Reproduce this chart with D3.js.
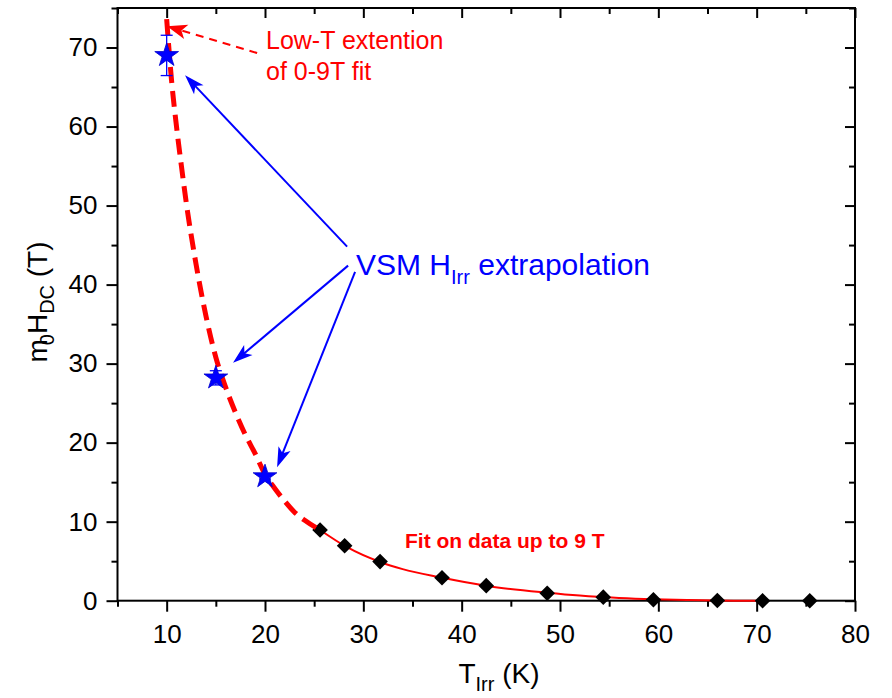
<!DOCTYPE html>
<html>
<head>
<meta charset="utf-8">
<script src="https://cdn.jsdelivr.net/npm/d3@7/dist/d3.min.js"></script>
<style>
    body { margin: 0; background: #fff; }
    svg { display: block; font-family: Arial, "Liberation Sans", sans-serif; }
</style>
</head>
<body>
<svg id="chart" width="892" height="698"></svg>
<script>
// measured points (black diamonds)
var dataT = [25.6, 28.1, 31.7, 38.0, 42.5, 48.7, 54.4, 59.5, 66.0, 70.6, 75.4];
var dataH = [8.95, 6.95, 4.95, 2.9, 1.9, 0.95, 0.45, 0.12, 0.02, 0, 0];

// VSM extrapolation (blue stars)
var vsmT = [10, 15, 20];
var vsmH = [69.0, 28.2, 15.7];
var vsmErr = [2.55, 0.9, 0.3];

// fit, low-T extension (dashed)
var extT = [10, 10.5, 11, 11.5, 12, 13, 14, 15, 16, 17, 18, 19, 20, 21, 22, 23, 24, 25.6];
var extH = [73.6, 65.8, 60.0, 55.0, 50.3, 42.5, 36.0, 30.8, 27.0, 23.8, 21.0, 18.6, 16.0, 14.2, 12.6, 11.2, 10.2, 8.95];

// fit on data up to 9 T (solid)
var fitT = [25.6, 28.3, 31.7, 34, 37.8, 42.6, 48.7, 52, 56, 59.5, 63, 66, 70];
var fitH = [8.95, 6.8, 4.9, 4.0, 2.96, 1.86, 1.01, 0.65, 0.35, 0.18, 0.08, 0.02, 0];

var xTicks = [10, 20, 30, 40, 50, 60, 70, 80];
var xMinor = [5, 15, 25, 35, 45, 55, 65, 75];
var yTicks = [0, 10, 20, 30, 40, 50, 60, 70];
var yMinor = [5, 15, 25, 35, 45, 55, 65, 75];

var svg = d3.select('#chart');

var pLeft = 117.5, pRight = 855, pTop = 8, pBottom = 600.7;

var x = d3.scaleLinear().domain([5, 80]).range([pLeft, pRight]);
var y = d3.scaleLinear().domain([0, 75]).range([pBottom, pTop]);

// axes
function styleAxis(g) {
    g.select('.domain').remove();
    g.selectAll('line').attr('stroke', '#000').attr('stroke-width', 2);
    g.selectAll('text').attr('fill', '#000').style('font-size', '26px');
}

svg.append('g')
    .attr('transform', `translate(0,${pBottom})`)
    .call(d3.axisBottom(x).tickValues(xTicks).tickSize(11).tickPadding(13).tickFormat(d3.format('d')))
    .call(styleAxis);

svg.append('g')
    .attr('transform', `translate(0,${pBottom})`)
    .call(d3.axisBottom(x).tickValues(xMinor).tickSize(6).tickFormat(''))
    .call(styleAxis);

svg.append('g')
    .attr('transform', `translate(0,${pTop})`)
    .call(d3.axisTop(x).tickValues(xTicks).tickSize(-10).tickFormat(''))
    .call(styleAxis);

svg.append('g')
    .attr('transform', `translate(0,${pTop})`)
    .call(d3.axisTop(x).tickValues(xMinor).tickSize(-6).tickFormat(''))
    .call(styleAxis);

svg.append('g')
    .attr('transform', `translate(${pLeft},0)`)
    .call(d3.axisLeft(y).tickValues(yTicks).tickSize(11).tickPadding(9).tickFormat(d3.format('d')))
    .call(styleAxis);

svg.append('g')
    .attr('transform', `translate(${pLeft},0)`)
    .call(d3.axisLeft(y).tickValues(yMinor).tickSize(6).tickFormat(''))
    .call(styleAxis);

svg.append('g')
    .attr('transform', `translate(${pRight},0)`)
    .call(d3.axisRight(y).tickValues(yTicks).tickSize(-10).tickFormat(''))
    .call(styleAxis);

svg.append('g')
    .attr('transform', `translate(${pRight},0)`)
    .call(d3.axisRight(y).tickValues(yMinor).tickSize(-6).tickFormat(''))
    .call(styleAxis);

// frame
svg.append('rect')
    .attr('x', pLeft)
    .attr('y', pTop)
    .attr('width', pRight - pLeft)
    .attr('height', pBottom - pTop)
    .attr('fill', 'none')
    .attr('stroke', '#000')
    .attr('stroke-width', 2);

// axis titles
var xt = svg.append('text')
    .attr('x', 499)
    .attr('y', 683)
    .attr('text-anchor', 'middle')
    .style('font-size', '28px')
    .attr('fill', '#000');
xt.append('tspan').text('T');
xt.append('tspan').text('Irr').style('font-size', '20px').attr('dy', 8);
xt.append('tspan').text(' (K)').attr('dy', -8);

var yt = svg.append('text')
    .attr('transform', 'translate(47,302) rotate(-90)')
    .attr('text-anchor', 'middle')
    .style('font-size', '28px')
    .attr('fill', '#000');
yt.append('tspan').text('m');
yt.append('tspan').text('0').style('font-size', '20px').attr('dy', 7).attr('dx', -6);
yt.append('tspan').text('H').attr('dy', -7);
yt.append('tspan').text('DC').style('font-size', '20px').attr('dy', 7);
yt.append('tspan').text(' (T)').attr('dy', -7);

// fit curves
var line = d3.line()
    .x(function (d) { return x(d[0]); })
    .y(function (d) { return y(d[1]); })
    .curve(d3.curveMonotoneX);

svg.append('path')
    .datum(d3.zip(fitT, fitH))
    .attr('d', line)
    .attr('fill', 'none')
    .attr('stroke', '#ff0000')
    .attr('stroke-width', 2);

// data points
svg.append('g')
    .selectAll('path')
    .data(d3.zip(dataT, dataH))
    .join('path')
    .attr('d', d3.symbol(d3.symbolSquare, 122))
    .attr('transform', function (d) { return `translate(${x(d[0])},${y(d[1])}) rotate(45)`; })
    .attr('fill', '#000');

svg.append('path')
    .datum(d3.zip(extT, extH))
    .attr('d', line)
    .attr('fill', 'none')
    .attr('stroke', '#ff0000')
    .attr('stroke-width', 5)
    .attr('stroke-dasharray', '16,8');

// VSM error bars
var vsm = d3.zip(vsmT, vsmH, vsmErr);
var eb = svg.append('g')
    .attr('stroke', '#0000ff')
    .attr('stroke-width', 1.3);

eb.selectAll('.v')
    .data(vsm)
    .join('line')
    .attr('x1', function (d) { return x(d[0]); })
    .attr('x2', function (d) { return x(d[0]); })
    .attr('y1', function (d) { return y(d[1] + d[2]); })
    .attr('y2', function (d) { return y(d[1] - d[2]); });

[1, -1].forEach(function (s) {
    eb.append('g')
        .selectAll('line')
        .data(vsm)
        .join('line')
        .attr('x1', function (d) { return x(d[0]) - 6; })
        .attr('x2', function (d) { return x(d[0]) + 6; })
        .attr('y1', function (d) { return y(d[1] + s * d[2]); })
        .attr('y2', function (d) { return y(d[1] + s * d[2]); });
});

svg.append('g')
    .selectAll('path')
    .data(vsm)
    .join('path')
    .attr('d', d3.symbol(d3.symbolStar, 175))
    .attr('transform', function (d) { return `translate(${x(d[0])},${y(d[1])})`; })
    .attr('fill', '#0000ff')
    .attr('stroke', '#0000cc')
    .attr('stroke-width', 0.8);

// annotation arrows [fromT, fromH, toT, toH]
var blueArrows = [
    [28.35, 44.8, 11.87, 66.5],
    [28.45, 42.4, 16.75, 30.1],
    [29.16, 41.6, 21.23, 16.9]
];
var redArrow = [19.2, 69.3, 10.04, 72.7];

function arrow(a, color, width, dash, headLen, headW) {
    var x1 = x(a[0]), y1 = y(a[1]), x2 = x(a[2]), y2 = y(a[3]);
    var ang = Math.atan2(y2 - y1, x2 - x1);
    var cos = Math.cos(ang), sin = Math.sin(ang);
    var bx = x2 - headLen * cos, by = y2 - headLen * sin;
    var nx = -sin * headW / 2, ny = cos * headW / 2;

    svg.append('line')
        .attr('x1', x1)
        .attr('y1', y1)
        .attr('x2', bx + headLen * 0.3 * cos)
        .attr('y2', by + headLen * 0.3 * sin)
        .attr('stroke', color)
        .attr('stroke-width', width)
        .attr('stroke-dasharray', dash);

    svg.append('path')
        .attr('d', `M${x2},${y2} L${bx + nx},${by + ny} L${bx + headLen * 0.25 * cos},${by + headLen * 0.25 * sin} L${bx - nx},${by - ny} Z`)
        .attr('fill', color);
}

blueArrows.forEach(function (a) { arrow(a, '#0000ff', 2, null, 20, 13); });
arrow(redArrow, '#ff0000', 2, '8,6', 20, 15);

// labels
svg.append('text')
    .attr('x', 266)
    .attr('y', 49)
    .style('font-size', '25px')
    .attr('fill', '#ff0000')
    .text('Low-T extention');

svg.append('text')
    .attr('x', 266)
    .attr('y', 80)
    .style('font-size', '25px')
    .attr('fill', '#ff0000')
    .text('of 0-9T fit');

var vt = svg.append('text')
    .attr('x', 356)
    .attr('y', 275)
    .style('font-size', '30px')
    .attr('fill', '#0000ff');
vt.append('tspan').text('VSM H');
vt.append('tspan').text('Irr').style('font-size', '20px').attr('dy', 9);
vt.append('tspan').text(' extrapolation').attr('dy', -9);

svg.append('text')
    .attr('x', 405)
    .attr('y', 548)
    .style('font-size', '21px')
    .style('font-weight', 'bold')
    .attr('fill', '#ff0000')
    .text('Fit on data up to 9 T');
</script>
</body>
</html>
